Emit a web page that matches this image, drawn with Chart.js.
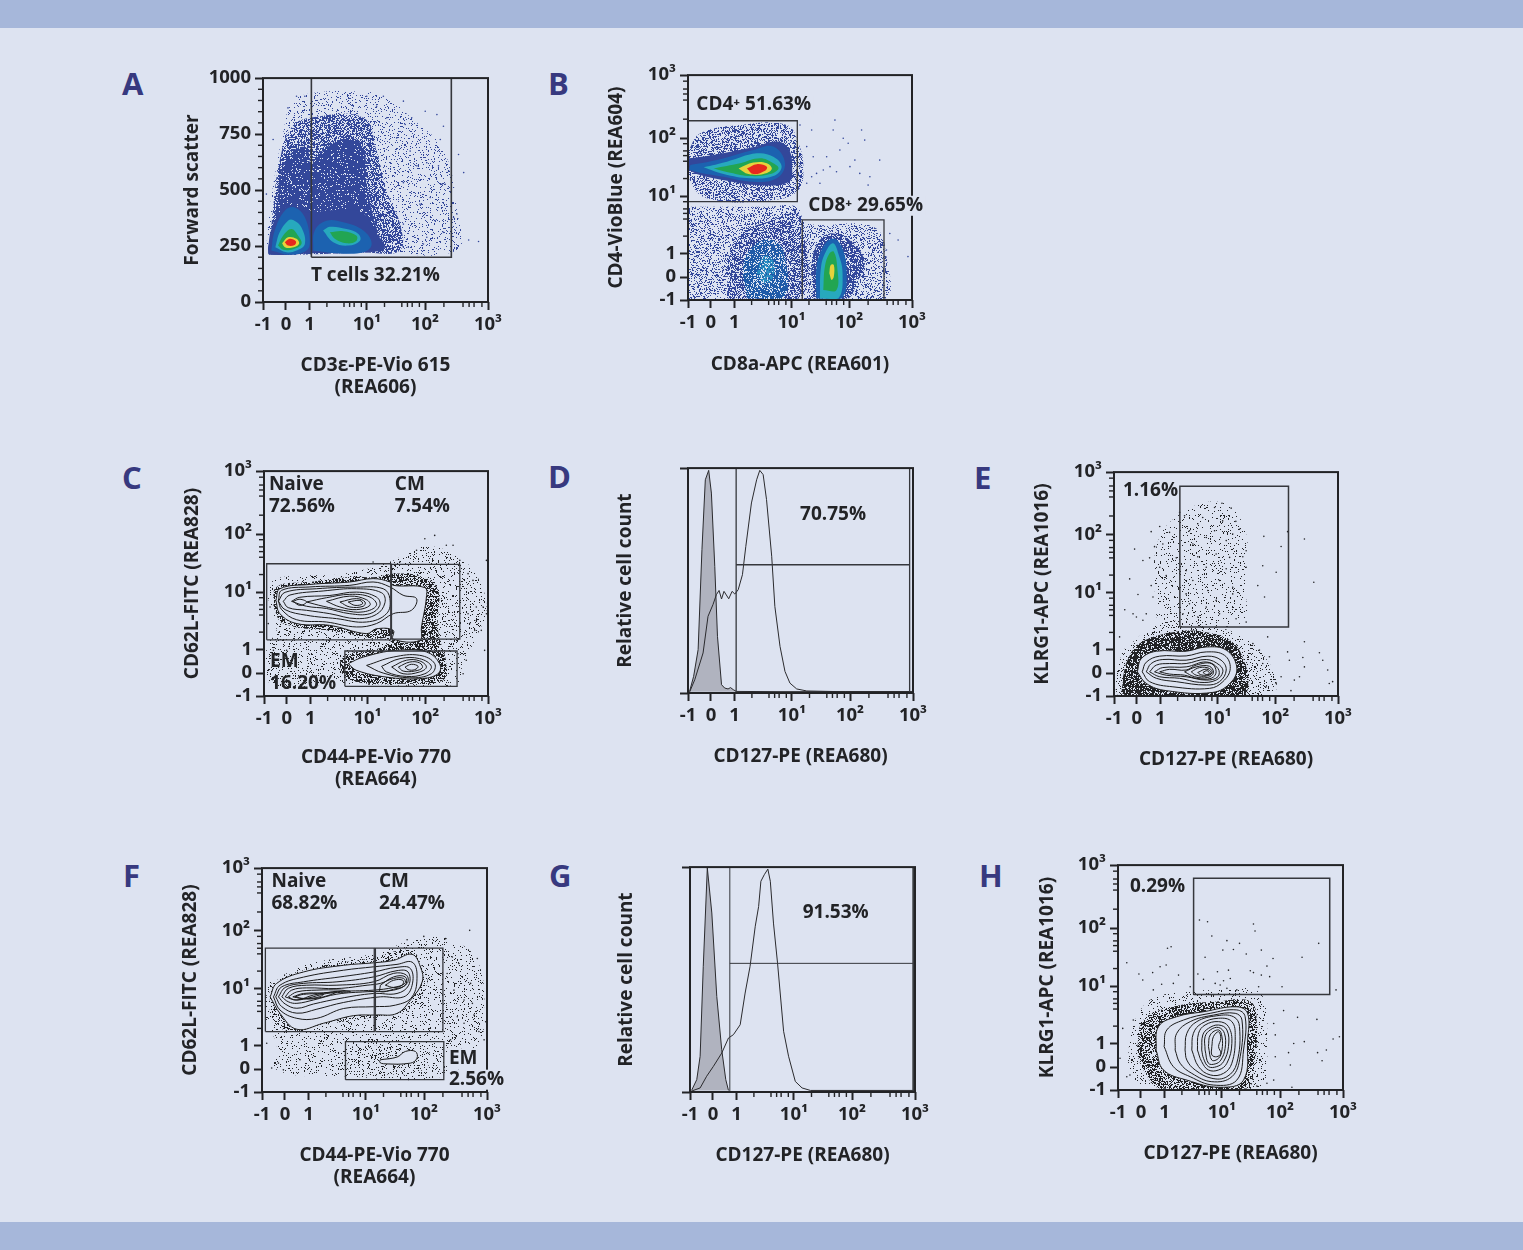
<!DOCTYPE html>
<html><head><meta charset="utf-8">
<script src="https://cdn.jsdelivr.net/npm/chart.js@4/dist/chart.umd.min.js"></script>
<style>
html,body{margin:0;padding:0;width:1523px;height:1250px;overflow:hidden;background:#dde3f1}
.band{position:absolute;left:0;width:1523px;background:#a6b7da}
canvas{position:absolute;display:block}
.letter{position:absolute;font:700 31px "Open Sans",sans-serif;color:#37397f;line-height:1;transform:translateY(-50%)}
</style></head><body>
<div class="band" style="top:0;height:28px"></div>
<div class="band" style="top:1222px;height:28px"></div>
<script>
/* ---- Axis: display channels 0..1000 of the biexponential axis, with their labels ---- */
const logChannels=[0,102,207,462,720,1000];
const logLabels=["-1","0","1","10¹","10²","10³"];
const logMinor=[284,360,385,405,437,540,617,642,663,695,804,889,916,938,973];
const fscChannels=[0,250,500,750,1000];
const fscLabels=["0","250","500","750","1000"];
const fscMinor=[50,100,150,200,300,350,400,450,550,600,650,700,800,850,900,950];

/* ---- Panel A ---- */
const aSparse=[15,246,30,410,59,603,89,752,126,887,208,931,446,939,550,916,654,827,802,678,862,410,862,231,475,223,30,216];
const aMid=[30,230,45,422,74,630,126,778,208,823,446,823,505,674,550,496,609,348,609,230,446,221,30,212];
const aCore=[22,237,59,422,82,585,134,674,193,689,215,615,282,689,386,733,446,689,461,526,490,378,520,245,446,222,223,218,30,212];
const aBase=[22,237,40,330,110,430,200,400,300,410,440,400,510,300,540,240,446,222,223,218,30,212];
const aBlue1=[37,230,52,319,97,408,141,422,186,378,208,274,193,230,119,212];
const aCyan1=[55,245,74,311,111,363,134,366,171,333,186,259,149,230,104,222];
const aGreen1=[67,252,89,296,126,326,156,296,171,259,134,236,89,233];
const aYellow1=[85,262,111,289,149,282,160,259,126,242,97,245];
const aRed1=[97,267,119,282,146,271,141,255,111,252];
const aBlue2=[223,230,230,319,282,363,357,356,446,319,483,259,446,222,327,218];
const aCyan2=[267,319,297,336,371,326,424,304,431,274,379,252,312,267];
const aGreen2=[297,311,357,316,416,296,413,271,371,262,319,282];
const aSpecks=[461,919,535,919,624,897,721,852,773,837,632,793,661,823,802,785,869,659,892,578,788,726,684,608,728,622,795,526,810,526,698,437,765,363,847,378,862,393,914,277,958,270,802,311,728,289,713,259,646,245,624,348,580,408,825,585,780,608,743,467,624,533,654,674,594,733,550,823,505,874,149,919,186,919,111,867,45,726,15,482];
const aGate=[215,200,837,200,837,1000,215,1000];

/* ---- Panel B ---- */
const bUpSparse=[3,667,55,741,233,778,441,778,493,697,515,593,493,489,381,445,85,452,3,548];
const bUpBlue=[3,630,114,645,292,680,400,705,450,670,465,593,450,525,322,510,174,530,3,578];
const bUpBlue2=[10,600,129,622,292,667,381,682,433,608,396,541,292,526,159,548,10,578];
const bUpCyan=[70,590,174,615,307,652,381,637,418,593,381,551,278,541,159,560];
const bUpGreen=[114,585,233,608,322,630,381,608,404,585,367,560,278,551,189,566];
const bUpYellow=[226,585,292,611,352,608,374,582,337,560,270,560];
const bUpRed=[263,585,307,604,352,593,344,575,292,560];
const bLowSparse=[3,415,174,415,352,415,485,415,530,341,827,326,886,193,871,3,3,3];
const bLowMid=[174,7,189,222,263,311,381,356,470,385,515,341,500,7];
const bLowBlue=[263,7,248,163,307,252,381,267,433,193,426,7];
const bLowCyan=[307,119,337,193,381,178,381,104,344,74];
const bCd8Blue=[559,7,552,163,589,267,648,296,738,252,789,163,752,74,715,7];
const bCd8Blue2=[574,7,574,148,604,237,648,274,686,237,708,133,686,7];
const bCd8Cyan=[589,7,594,148,619,222,648,252,671,207,690,119,671,7];
const bCd8Green=[604,44,611,148,631,207,651,215,666,148,663,44];
const bCd8Yellow=[631,119,637,156,651,156,651,104,641,89];
const bSpecks=[500,778,552,756,656,800,648,756,715,697,775,756,789,711,745,622,856,622,812,548,804,511,663,570,619,637,574,563,530,682,604,578,559,637,678,667,723,593,767,563,589,519,634,593,530,519,552,548,500,593,693,719,901,296,938,267,982,193,886,222];
const bGateCd4=[0,437,488,437,488,797,0,797];
const bGateCd8=[510,0,510,356,875,356,875,0];

/* ---- Panel C ---- */
const cSparse=[12,455,56,522,354,544,577,603,695,662,814,648,933,559,993,396,948,262,889,144,859,55,591,47,354,55,27,55,12,218,56,292];
const cDense=[42,396,56,485,205,507,383,529,502,529,577,544,710,529,777,470,777,292,814,144,799,70,651,55,383,70,339,144,383,188,532,218,577,262,502,255,339,285,86,322];
const cUp1=[53,425,71,477,205,496,383,507,487,522,562,507,577,492,718,482,725,440,703,307,695,247,577,253,577,292,502,299,458,277,294,314,146,322,71,366];
const cUp2=[64,425,79,470,205,485,383,492,487,507,562,485,621,448,681,433,658,381,577,366,502,322,413,307,279,329,146,339,79,384];
const cUp3=[64,421,94,461,235,477,413,484,532,477,562,433,547,366,458,329,324,344,190,359,94,384];
const cUp4=[86,421,116,449,264,467,413,477,525,459,540,415,502,363,413,344,294,366,190,381,108,393];
const cUp5=[123,421,160,439,294,447,413,462,502,440,517,403,473,366,383,366,279,389,190,399];
const cUp6=[190,418,279,437,383,452,473,440,502,403,443,374,354,381,264,399];
const cUp7=[279,421,383,444,458,428,473,403,413,384,339,396];
const cUp8=[339,418,413,433,451,418,443,399,383,396];
const cUp9=[376,418,428,425,440,410,406,403];
const cUp10=[130,421,160,430,190,418,160,403];
const cLow1=[376,144,443,173,591,203,725,196,784,144,777,99,695,77,547,84,413,114];
const cLow2=[458,136,577,173,695,181,762,144,747,99,651,81,532,102];
const cLow3=[525,132,607,166,695,166,747,132,718,99,636,87,547,107];
const cLow4=[570,129,636,159,695,156,725,129,695,107,621,99];
const cLow5=[600,129,651,151,695,147,707,126,673,111,621,111];
const cLow6=[630,129,658,141,688,132,673,117,643,117];
const cSpecks=[911,544,911,366,948,336,993,366,970,292,985,203,903,159,889,99,718,699,762,714,814,670,993,603,933,514,874,603,948,396,918,322,978,396,941,292,866,188,844,670,681,648,606,596,487,596,27,396,19,322,42,203,101,203];
const cGateNaive=[12,250,566,250,566,588,12,588];
const cGateCm=[569,253,874,253,874,585,569,585];
const cGateEm=[361,43,862,43,862,200,361,200];

/* ---- Panel D ---- */
const dControl=[7,7,25,74,45,193,62,637,77,948,92,990,104,889,119,563,131,252,149,37,163,22,178,18,189,24,201,15,215,7,400,6,700,6,995,6];
const dSample=[7,4,30,59,67,178,89,341,111,393,126,437,138,456,149,418,160,452,181,419,196,452,208,440,223,459,242,526,257,652,282,845,305,948,319,990,334,971,349,860,372,608,386,385,409,207,431,96,453,44,483,18,528,9,676,6,995,6];
const dGate=[214,0,214,1000,985,1000,985,0];
const dGateBar=[214,570,985,570];

/* ---- Panel E ---- */
const eWide=[40,205,204,323,382,323,575,264,694,145,724,27,664,4,25,4,10,86];
const eDense=[40,86,60,160,114,235,263,285,412,285,530,240,585,145,600,56,575,4,50,4];
const eCloud=[189,352,189,664,293,812,482,864,586,738,586,501,572,330,352,308];
const eC1=[104,108,122,167,189,200,322,200,412,219,501,205,548,130,523,62,441,16,233,24,144,56];
const eC2=[126,108,144,151,204,178,322,179,412,197,493,182,519,123,486,64,426,34,263,41,159,64];
const eC3=[144,108,166,145,218,163,322,160,419,178,478,160,501,116,471,64,412,49,278,64,189,79];
const eC4=[159,108,189,138,248,145,322,145,412,163,471,138,486,108,456,71,382,61,293,79,204,86];
const eC5=[181,108,218,127,322,130,412,152,464,123,464,86,412,71,322,86,233,93];
const eC6=[204,108,248,119,322,116,367,138,434,145,456,108,434,79,367,79,315,93,248,98];
const eC7=[315,108,367,130,426,133,444,104,419,83,360,86];
const eC8=[345,108,382,127,426,123,438,104,412,89,367,93];
const eC9=[374,105,412,120,434,104,412,93,385,96];
const eC10=[397,105,415,113,426,102,412,96];
const eSpecks=[482,861,523,839,449,842,293,820,315,805,396,797,485,782,544,780,374,769,204,757,166,734,248,731,337,738,449,738,560,745,530,723,501,694,412,708,352,679,181,667,218,679,92,656,159,617,278,617,374,622,456,634,516,619,590,649,575,622,664,582,590,575,501,568,412,575,322,560,204,575,129,605,70,523,233,538,352,516,471,516,642,493,530,486,419,471,322,456,166,493,107,453,672,442,530,456,456,427,337,412,48,385,174,442,412,397,308,367,144,367,100,353,545,345,471,367,374,353,590,330,724,553,746,668,775,734,850,701,892,508,669,713,686,264,850,242,775,197,917,193,932,160,843,172,850,130,828,86,805,71,954,116,976,64,961,56,783,160,746,86,724,56,694,175,664,145,649,205,620,234,679,41,790,24,25,264,85,367,129,338,415,105];
const eGate=[294,308,779,308,779,937,294,937];

/* ---- Panel F ---- */
const fSparse=[21,485,214,574,496,618,689,685,823,685,957,588,987,322,957,203,808,70,363,70,65,99,65,218,21,307];
const fDense=[33,441,51,492,244,559,481,596,660,633,712,559,734,485,660,367,541,338,407,322,244,292,155,270,51,307];
const fEmMid=[392,203,630,203,749,173,719,99,541,77,392,92];
const fC1=[36,425,65,485,184,536,363,566,496,577,585,588,667,615,704,559,712,492,660,411,600,351,511,344,407,341,273,307,155,280,80,351];
const fC2=[51,425,80,477,184,513,363,544,496,559,600,570,667,580,689,522,667,425,593,388,496,381,363,373,244,329,155,329,80,366];
const fC3=[61,425,88,470,184,492,347,514,496,536,600,557,660,551,667,476,630,425,526,425,363,400,244,370,155,352,88,381];
const fC4=[73,425,103,467,184,485,333,492,496,514,600,542,649,536,652,477,600,440,496,440,347,418,229,393,155,374,103,393];
const fC5=[88,425,117,463,199,477,333,477,496,492,585,530,642,522,645,485,585,455,467,448,333,437,229,411,155,396,117,403];
const fC6=[103,425,132,455,199,465,333,462,467,477,526,485,585,507,630,507,635,485,585,467,496,455,333,448,229,433,155,411];
const fC7=[526,477,585,514,637,514,637,477,585,459,526,448];
const fC8=[548,477,585,499,626,499,623,477,585,467];
const fC9=[117,425,155,447,244,455,347,455,392,448,288,440,199,418,147,411];
const fC10=[137,425,184,440,273,443,333,448,273,425,199,415];
const fC11=[147,425,184,436,273,437,244,422,184,418];
const fEm=[526,144,600,156,637,181,682,181,689,151,660,129,541,126,523,133];
const fSpecks=[923,722,957,596,816,685,719,695,645,680,846,603,875,574,927,485,942,344,994,314,987,233,898,411,868,336,935,396,898,307,964,270,838,233,853,455,823,529,21,218,73,129,95,99,43,107,169,144,169,428];
const fGateNaive=[15,270,499,270,499,643,15,643];
const fGateCm=[504,270,804,270,804,643,504,643];
const fGateEm=[371,55,808,55,808,225,371,225];

/* ---- Panel G ---- */
const gControl=[7,7,30,55,45,159,59,559,77,996,97,796,119,425,141,188,159,55,171,7];
const gSample=[7,4,45,18,74,70,104,114,141,173,171,240,193,255,223,299,245,440,267,559,290,737,305,825,315,937,330,966,346,991,357,937,371,751,389,574,416,270,438,159,468,47,498,18,535,7,1000,7];
const gGate=[177,0,177,1000,992,1000,992,0];
const gGateBar=[177,572,992,572];

/* ---- Panel H ---- */
const hWide=[46,178,83,326,172,415,454,445,632,430,662,237,617,7,128,7,53,89];
const hDense=[83,163,113,311,246,370,439,393,588,393,617,296,603,104,573,7,187,7,113,89];
const hC1=[169,178,180,282,261,326,380,348,528,370,576,341,576,222,558,44,454,12,306,44,202,89];
const hC2=[205,193,217,267,291,311,410,341,528,356,565,326,558,178,528,44,424,22,321,59,246,104];
const hC3=[254,178,261,252,321,304,424,333,521,341,551,311,543,148,506,59,417,37,328,74,276,119];
const hC4=[298,178,306,252,350,304,439,330,513,326,540,282,528,119,484,59,417,52,343,89,306,133];
const hC5=[328,178,335,252,372,296,447,319,506,304,521,237,506,119,469,74,410,67,358,104];
const hC6=[353,178,358,252,387,289,447,304,491,282,506,207,484,119,447,89,402,89,372,126];
const hC7=[372,178,377,245,402,274,447,289,484,267,491,193,469,126,439,104,402,104,380,141];
const hC8=[387,178,387,237,410,267,447,278,473,252,476,185,457,133,432,116,402,119];
const hC9=[402,193,410,245,447,267,462,237,462,178,447,141,417,133];
const hC10=[417,193,424,237,447,259,457,230,447,193,457,163,439,148,417,156];
const hSpecks=[362,756,398,748,602,738,609,707,417,685,484,664,540,652,892,652,466,622,513,625,570,605,637,622,387,590,818,590,689,585,662,551,491,533,588,530,602,522,637,511,355,516,380,492,442,526,469,486,499,496,674,504,432,474,454,467,729,459,528,445,484,452,625,459,969,445,220,630,236,637,39,566,187,548,214,556,154,522,93,516,110,489,269,511,194,470,157,445,246,474,321,459,736,353,798,323,884,314,692,296,699,245,781,207,828,215,956,227,984,237,758,166,887,166,926,178,907,130,699,148,766,111,692,44,773,12,617,18,662,30,21,274,9,141,39,59,53,67,68,311];
const hGate=[336,425,941,425,941,941,336,941];

/* ---- Texts ---- */
const aTexts=[["T cells 32.21%",213,120]];
const bTexts=[["CD4⁺ 51.63%",37,867,1],["CD8⁺ 29.65%",537,419,1]];
const cTexts=[["Naive",22,941],["72.56%",22,843],["CM",584,941],["7.54%",584,843],["EM",27,151],["16.20%",27,55]];
const dTexts=[["70.75%",498,793]];
const eTexts=[["1.16%",40,919]];
const fTexts=[["Naive",42,941],["68.82%",42,840],["CM",520,941],["24.47%",520,840],["EM",831,151,1],["2.56%",831,55,1]];
const gTexts=[["91.53%",501,796]];
const hTexts=[["0.29%",53,904]];

/* ---- Styles ---- */
const BG="#dde3f1",INK="#222326",BLUE="#33479a",BLUE2="#1c62b0",CYAN="#27a9bd",GREEN="#22a552",YELLOW="#e6d23c",RED="#e6281d";
const FONT='"Open Sans", sans-serif';

/* stipple fill texture built from a short list of dot offsets */
const tileDots=[3,7,18,2,33,11,49,5,60,14,9,21,26,17,41,24,55,28,2,33,15,38,30,31,46,40,58,43,6,49,21,52,37,47,50,57,62,55,12,61,27,63,43,59,56,37,35,3,23,9,44,15,61,23,8,28,19,44,39,36,53,50,31,56];
const patCache={};
function stipple(color,layers){
  const k=color+layers; if(patCache[k])return patCache[k];
  const c=document.createElement("canvas");c.width=c.height=128;const g=c.getContext("2d");g.fillStyle=color;
  for(let l=0;l<layers*4;l++){const ox=(l*l*7+l*29)%251,oy=(l*l*l*3+l*53)%241;
    for(let i=0;i<tileDots.length;i+=2)g.fillRect((tileDots[i]*2+ox)%128,(tileDots[i+1]*2+oy)%128,1,1);}
  return patCache[k]=g.createPattern(c,"repeat");
}
const pairs=a=>{const o=[];for(let i=0;i<a.length;i+=2)o.push({x:a[i],y:a[i+1]});return o};
const closed=a=>{const o=pairs(a);o.push(o[0]);return o};
const solid=(a,col)=>({data:closed(a),showLine:true,fill:"shape",backgroundColor:col,borderWidth:0,borderColor:"transparent",pointRadius:0,tension:.4});
const dots=(a,col,layers)=>solid(a,stipple(col,layers));
const contour=(a,fillCol)=>({data:closed(a),showLine:true,fill:fillCol?"shape":false,backgroundColor:fillCol||"transparent",borderWidth:1,borderColor:"#1b1b1b",pointRadius:0,tension:.4});
const gate=(a,w)=>({data:closed(a),showLine:true,fill:false,borderWidth:w||1.3,borderColor:"#35373c",pointRadius:0,tension:0});
const bar=(a,w)=>({data:pairs(a),showLine:true,fill:false,borderWidth:w||1.3,borderColor:"#35373c",pointRadius:0,tension:0});
const specks=(a,col)=>({data:pairs(a),showLine:false,pointRadius:.8,pointBorderWidth:0,pointBackgroundColor:col,backgroundColor:col});
const curve=(a,fillCol)=>({data:pairs(a),showLine:true,fill:fillCol?"shape":false,backgroundColor:fillCol||"transparent",borderWidth:1,borderColor:"#2a2a2d",pointRadius:0,tension:0});

const panels=[
 {letter:"A",lx:122,ly:83,frame:[263,78,488,302],tx:193,xLast:387,xTitle:["CD3ε-PE-Vio 615","(REA606)"],yTitle:"Forward scatter",fsc:true,texts:aTexts,layers:[
  dots(aSparse,BLUE,16),dots(aMid,BLUE,120),dots(aCore,BLUE,320),solid(aBase,BLUE),solid(aBlue1,BLUE2),solid(aCyan1,CYAN),solid(aGreen1,GREEN),solid(aYellow1,YELLOW),solid(aRed1,RED),
  solid(aBlue2,BLUE2),solid(aCyan2,CYAN),solid(aGreen2,GREEN),specks(aSpecks,BLUE),gate(aGate,1.6)]},
 {letter:"B",lx:548,ly:83,frame:[688,75,912,300],tx:617,xLast:364,xTitle:"CD8a-APC (REA601)",yTitle:"CD4-VioBlue (REA604)",texts:bTexts,layers:[
  dots(bUpSparse,BLUE,70),dots(bLowSparse,BLUE,40),dots(bLowMid,BLUE,110),dots(bLowBlue,"#1f5aa8",170),dots(bLowCyan,"#2a8cc0",110),
  dots(bCd8Blue,BLUE,170),solid(bUpBlue,BLUE),solid(bUpBlue2,BLUE2),solid(bUpCyan,CYAN),solid(bUpGreen,GREEN),solid(bUpYellow,YELLOW),solid(bUpRed,RED),
  solid(bCd8Blue2,BLUE2),solid(bCd8Cyan,CYAN),solid(bCd8Green,GREEN),solid(bCd8Yellow,YELLOW),specks(bSpecks,BLUE),gate(bGateCd4),gate(bGateCd8)]},
 {letter:"C",lx:122,ly:477,frame:[264,471,488,696],tx:193,xLast:779,xTitle:["CD44-PE-Vio 770","(REA664)"],yTitle:"CD62L-FITC (REA828)",texts:cTexts,layers:[
  dots(cSparse,INK,14),dots(cDense,INK,100),specks(cSpecks,INK),
  contour(cUp1,BG),contour(cUp2),contour(cUp3),contour(cUp4),contour(cUp5),contour(cUp6),contour(cUp7),contour(cUp8),contour(cUp9),contour(cUp10),
  contour(cLow1,BG),contour(cLow2),contour(cLow3),contour(cLow4),contour(cLow5),contour(cLow6),gate(cGateNaive),gate(cGateCm),gate(cGateEm)]},
 {letter:"D",lx:548,ly:476,frame:[688,468,913,693],tx:626,xLast:756,xTitle:"CD127-PE (REA680)",yTitle:"Relative cell count",hist:true,texts:dTexts,layers:[
  curve(dControl,"#b0b3bf"),curve(dSample),gate(dGate),bar(dGateBar,1.6)]},
 {letter:"E",lx:974,ly:477,frame:[1114,472,1338,696],tx:1043,xLast:759,xTitle:"CD127-PE (REA680)",yTitle:"KLRG1-APC (REA1016)",texts:eTexts,layers:[
  dots(eCloud,INK,10),dots(eWide,INK,16),dots(eDense,INK,170),specks(eSpecks,INK),contour(eC1,BG),contour(eC2),contour(eC3),contour(eC4),contour(eC5),contour(eC6),contour(eC7),contour(eC8),contour(eC9),contour(eC10),gate(eGate,1.5)]},
 {letter:"F",lx:123,ly:875,frame:[262,868,487,1092],tx:191,xLast:1177,xTitle:["CD44-PE-Vio 770","(REA664)"],yTitle:"CD62L-FITC (REA828)",texts:fTexts,layers:[
  dots(fSparse,INK,12),dots(fDense,INK,40),dots(fEmMid,INK,22),specks(fSpecks,INK),
  contour(fC1,BG),contour(fC2),contour(fC3),contour(fC4),contour(fC5),contour(fC6),contour(fC7),contour(fC8),contour(fC9),contour(fC10),contour(fC11),contour(fEm,BG),gate(fGateNaive),gate(fGateCm),gate(fGateEm)]},
 {letter:"G",lx:549,ly:875,frame:[690,867,915,1092],tx:627,xLast:1155,xTitle:"CD127-PE (REA680)",yTitle:"Relative cell count",hist:true,texts:gTexts,layers:[
  curve(gControl,"#b0b3bf"),curve(gSample),gate(gGate,1),bar(gGateBar,1)]},
 {letter:"H",lx:979,ly:875,frame:[1118,865,1343,1090],tx:1048,xLast:1153,xTitle:"CD127-PE (REA680)",yTitle:"KLRG1-APC (REA1016)",texts:hTexts,layers:[
  dots(hWide,INK,12),dots(hDense,INK,90),specks(hSpecks,INK),contour(hC1,BG),contour(hC2),contour(hC3),contour(hC4),contour(hC5),contour(hC6),contour(hC7),contour(hC8),contour(hC9),contour(hC10),gate(hGate,1.5)]}
];

const labelFont={family:FONT,size:18.5,weight:"700"};
const titleFont={family:FONT,size:19,weight:"700",lineHeight:1.13};
const overlay={id:"overlay",afterDraw(ch,_a,o){
  const {ctx,chartArea:ca,scales:{x,y}}=ch;
  ctx.save();
  ctx.strokeStyle=INK;ctx.lineWidth=2;
  ctx.strokeRect(ca.left,ca.top,ca.right-ca.left,ca.bottom-ca.top);
  ctx.lineWidth=1.4;
  x.options.minorList.forEach(v=>{const p=x.getPixelForValue(v);ctx.beginPath();ctx.moveTo(p,ca.bottom);ctx.lineTo(p,ca.bottom+5);ctx.stroke()});
  y.options.minorList.forEach(v=>{const p=y.getPixelForValue(v);ctx.beginPath();ctx.moveTo(ca.left,p);ctx.lineTo(ca.left-5,p);ctx.stroke()});
  ctx.font='700 19px '+FONT;ctx.textBaseline="middle";ctx.textAlign="left";
  o.texts.forEach(([t,vx,vy,halo])=>{
    const px=x.getPixelForValue(vx),py=y.getPixelForValue(vy);
    if(halo){ctx.fillStyle=BG;ctx.fillRect(px-2,py-10,ctx.measureText(t).width+4,20)}
    ctx.fillStyle=INK;ctx.fillText(t,px,py);
  });
  ctx.restore();
}};

function axis(ticks,labels,minor,title,fit){
  return {type:"linear",min:0,max:1000,minorList:minor,
    afterBuildTicks:s=>{s.ticks=ticks.map(v=>({value:v}))},
    afterFit:fit,
    border:{display:false},
    grid:{drawOnChartArea:false,drawTicks:true,tickLength:8,tickWidth:2,tickColor:INK,color:INK},
    ticks:{autoSkip:false,maxRotation:0,minRotation:0,padding:4,color:INK,font:labelFont,
      callback:(v,i)=>labels[i]},
    title:{display:true,text:title,color:INK,font:titleFont,padding:0}};
}

panels.forEach(p=>{
  const [l,t,r,b]=p.frame,top=15,right=30;
  const cl=p.tx-10.8,ct=t-top,cb=p.xLast+10.8;
  const W=Math.round(r-cl+right),H=Math.round(cb-ct);
  const letter=document.createElement("div");letter.className="letter";letter.textContent=p.letter;
  letter.style.left=p.lx+"px";letter.style.top=p.ly+"px";document.body.appendChild(letter);
  const cv=document.createElement("canvas");cv.width=W;cv.height=H;
  cv.style.cssText=`left:${Math.round(cl)}px;top:${ct}px;width:${W}px;height:${H}px`;
  document.body.appendChild(cv);
  const n=p.layers.length;
  p.layers.forEach((d,i)=>{d.order=n-i});
  const yT=p.fsc?fscChannels:(p.hist?[0,1000]:logChannels);
  const yL=p.fsc?fscLabels:(p.hist?["",""]:logLabels);
  const yM=p.fsc?fscMinor:(p.hist?[]:logMinor);
  new Chart(cv,{type:"scatter",data:{datasets:p.layers},
    plugins:[overlay],
    options:{responsive:false,animation:false,devicePixelRatio:1,events:[],
      layout:{padding:{top,right,left:0,bottom:0}},
      plugins:{legend:{display:false},tooltip:{enabled:false},overlay:{texts:p.texts}},
      scales:{
        x:axis(logChannels,logLabels,logMinor,p.xTitle,s=>{s.height=H-(b-ct)}),
        y:axis(yT,yL,yM,p.yTitle,s=>{s.width=l-Math.round(cl)})
      }}});
});
</script>
</body></html>
